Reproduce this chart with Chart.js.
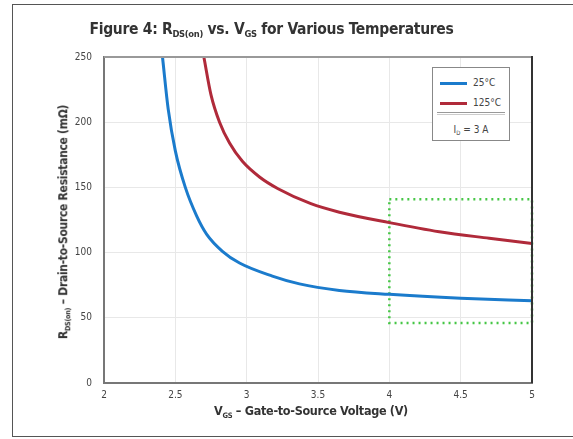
<!DOCTYPE html>
<html>
<head>
<meta charset="utf-8">
<script src="https://cdn.jsdelivr.net/npm/chart.js@4/dist/chart.umd.min.js"></script>
<style>
  html, body { margin: 0; padding: 0; background: #fff; }
  #wrap { position: relative; width: 573px; height: 439px; overflow: hidden; font-family: "DejaVu Sans Condensed", "Liberation Sans Narrow", "Roboto", sans-serif; }
  #frame { position: absolute; left: 12px; top: 4px; width: 620px; height: 433px; border: 1.5px solid #555; box-sizing: border-box; }
  #chart { position: absolute; left: 0; top: 0; }
  #title { position: absolute; left: -15px; width: 573px; top: 20px; text-align: center; font-weight: bold; font-size: 15.5px; color: #333; letter-spacing: -0.3px; }
  #xTitle { position: absolute; left: 104px; width: 414px; top: 403px; text-align: center; font-weight: bold; font-size: 12.5px; color: #333; letter-spacing: -0.3px; }
  #yTitle { position: absolute; left: 64px; top: 222px; transform: translate(-50%, -50%) rotate(-90deg); white-space: nowrap; font-weight: bold; font-size: 12px; color: #333; letter-spacing: -0.3px; }
  sub { font-size: 0.6em; vertical-align: -0.35em; }
  #legend { position: absolute; left: 432px; top: 67px; width: 78px; height: 74px; border: 1px solid #888; box-sizing: border-box; background: #fff; font-size: 10px; color: #444; }
  .row { position: absolute; left: 7px; height: 12px; line-height: 12px; }
  .swatch { display: inline-block; width: 27px; height: 3px; vertical-align: middle; margin-right: 6px; }
  #divider { position: absolute; left: 4px; right: 4px; top: 44px; border-top: 1px solid #999; border-bottom: 1px solid #ccc; height: 1px; }
  #cond { position: absolute; left: 0; right: 0; top: 56px; text-align: center; color: #444; }
</style>
</head>
<body>
<div id="wrap">
  <div id="frame"></div>
  <canvas id="chart" width="573" height="439"></canvas>
  <div id="title">Figure 4: R<sub>DS(on)</sub> vs. V<sub>GS</sub> for Various Temperatures</div>
  <div id="xTitle">V<sub>GS</sub> – Gate-to-Source Voltage (V)</div>
  <div id="yTitle">R<sub>DS(on)</sub> – Drain-to-Source Resistance (mΩ)</div>
  <div id="legend">
    <div class="row" style="top:9px"><span class="swatch" style="background:#1b7bcc"></span>25°C</div>
    <div class="row" style="top:29px"><span class="swatch" style="background:#b02a3a"></span>125°C</div>
    <div id="divider"></div>
    <div id="cond">I<sub>D</sub> = 3 A</div>
  </div>
</div>
<script>
const xTicks = [2, 2.5, 3, 3.5, 4, 4.5, 5];
const yTicks = [0, 50, 100, 150, 200, 250];

const vgs25 = [2.41, 2.45, 2.50, 2.57, 2.65, 2.72, 2.83, 2.95, 3.18, 3.37, 3.65, 4.0, 4.5, 5.0];
const rds25 = [250, 210, 178, 150, 128, 114, 101, 92, 82, 76, 71, 68, 65, 63];

const vgs125 = [2.70, 2.75, 2.81, 2.88, 2.97, 3.09, 3.22, 3.45, 3.65, 4.0, 4.35, 4.7, 5.0];
const rds125 = [250, 221, 200, 184, 170, 158, 149, 137.5, 131, 123, 116, 111, 107];

// green dotted highlight box
const boxX = [4, 5, 5, 4, 4];
const boxY = [141, 141, 46, 46, 141];

const toPts = (xs, ys) => xs.map((x, i) => ({ x, y: ys[i] }));

const framePlugin = {
  id: 'frame',
  afterDatasetsDraw(chart) {
    const { ctx, chartArea: a } = chart;
    ctx.save();
    ctx.strokeStyle = '#999';
    ctx.lineWidth = 2;
    ctx.beginPath();
    ctx.moveTo(a.left, a.top);
    ctx.lineTo(a.right, a.top);
    ctx.stroke();
    ctx.strokeStyle = '#333';
    ctx.beginPath();
    ctx.moveTo(a.right, a.top - 1);
    ctx.lineTo(a.right, a.bottom);
    ctx.stroke();
    ctx.restore();
  }
};

new Chart(document.getElementById('chart').getContext('2d'), {
  type: 'line',
  data: {
    datasets: [
      {
        label: '25°C',
        data: toPts(vgs25, rds25),
        borderColor: '#1b7bcc',
        borderWidth: 3,
        pointRadius: 0,
        cubicInterpolationMode: 'monotone',
        clip: 4
      },
      {
        label: '125°C',
        data: toPts(vgs125, rds125),
        borderColor: '#b02a3a',
        borderWidth: 3,
        pointRadius: 0,
        cubicInterpolationMode: 'monotone',
        clip: 4
      },
      {
        label: 'box',
        data: toPts(boxX, boxY),
        borderColor: '#46c646',
        borderWidth: 2.5,
        borderDash: [2, 4],
        pointRadius: 0,
        tension: 0,
        clip: false
      }
    ]
  },
  plugins: [framePlugin],
  options: {
    responsive: false,
    animation: false,
    layout: { padding: { top: 57, right: 41, left: 0, bottom: 0 } },
    plugins: { legend: { display: false }, tooltip: { enabled: false } },
    scales: {
      x: {
        type: 'linear',
        min: 2,
        max: 5,
        afterBuildTicks: s => { s.ticks = xTicks.map(v => ({ value: v })); },
        afterFit: s => { s.height = 56; },
        grid: { color: '#e8e8e8', lineWidth: 1, drawTicks: false },
        border: { color: '#777', width: 2 },
        ticks: { color: '#444', font: { size: 10, family: 'DejaVu Sans Condensed' }, padding: 6, callback: v => String(v) }
      },
      y: {
        min: 0,
        max: 250,
        afterBuildTicks: s => { s.ticks = yTicks.map(v => ({ value: v })); },
        afterFit: s => { s.width = 104; },
        grid: { color: '#e8e8e8', lineWidth: 1, drawTicks: false },
        border: { color: '#777', width: 2 },
        ticks: { color: '#444', font: { size: 10, family: 'DejaVu Sans Condensed' }, padding: 12, callback: v => String(v) }
      }
    }
  }
});
</script>
</body>
</html>
